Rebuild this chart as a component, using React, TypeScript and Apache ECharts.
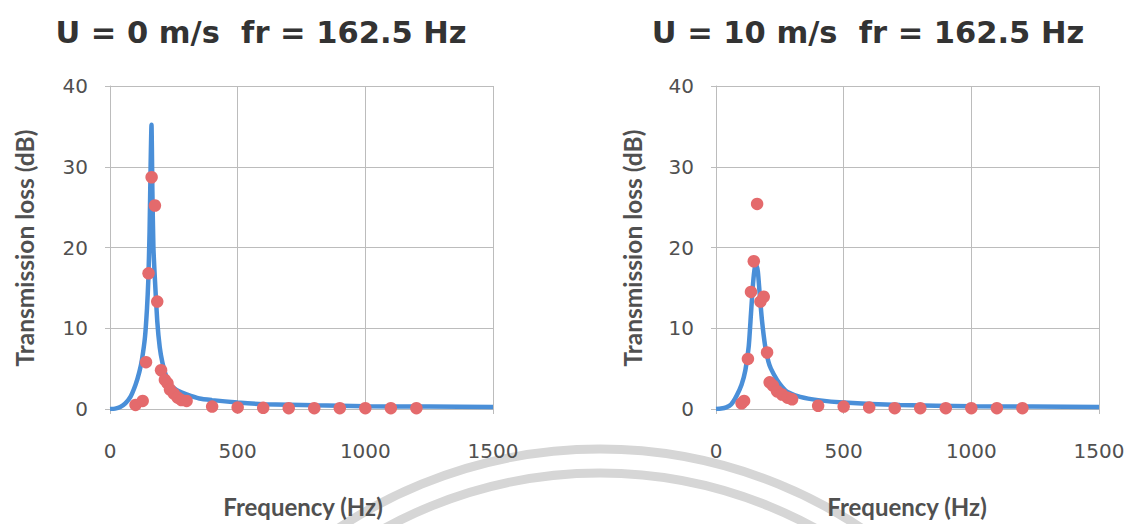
import React, { useEffect, useRef } from "react";
import * as echarts from "echarts";

// ---- Data ----
const titles = ["U = 0 m/s  fr = 162.5 Hz", "U = 10 m/s  fr = 162.5 Hz"];
const xAxisName = "Frequency (Hz)";
const yAxisName = "Transmission loss (dB)";

// U = 0 m/s : model curve
const modelFreq0 = [0, 20, 40, 60, 80, 100, 115, 125, 137, 145, 150, 155, 159, 162.5, 166, 170, 176, 185, 195, 205, 220, 240, 270, 300, 350, 400, 500, 600, 800, 1000, 1250, 1500];
const modelTL0 = [0, 0.05, 0.25, 0.7, 1.5, 3.0, 4.6, 6.1, 8.9, 12.5, 15.9, 22, 30, 35.2, 27, 20, 16, 10.9, 7.6, 5.8, 4.1, 2.9, 2.2, 1.8, 1.3, 1.1, 0.8, 0.6, 0.45, 0.35, 0.3, 0.25];
// U = 0 m/s : measured points
const expFreq0 = [100, 128, 141, 151, 163, 176, 185, 200, 215, 225, 235, 250, 265, 280, 300, 400, 500, 600, 700, 800, 900, 1000, 1100, 1200];
const expTL0 = [0.5, 1.0, 5.8, 16.8, 28.7, 25.2, 13.3, 4.8, 3.6, 3.2, 2.4, 1.9, 1.4, 1.1, 1.0, 0.3, 0.2, 0.15, 0.1, 0.1, 0.1, 0.1, 0.1, 0.1];

// U = 10 m/s : model curve
const modelFreq10 = [0, 20, 40, 60, 80, 100, 115, 128, 137, 145, 152, 158, 164, 171, 180, 193, 205, 215, 239, 260, 280, 330, 400, 500, 720, 1000, 1500];
const modelTL10 = [0, 0.05, 0.2, 0.6, 1.6, 3.0, 4.8, 7.7, 11.8, 15.5, 17.5, 17.8, 17.0, 14.3, 11, 7.7, 5.9, 5.0, 3.6, 2.7, 2.1, 1.5, 1.1, 0.8, 0.5, 0.35, 0.25];
// U = 10 m/s : measured points
const expFreq10 = [100, 110, 125, 137, 148, 161, 174, 187, 200, 210, 223, 239, 258, 280, 298, 400, 500, 600, 700, 800, 900, 1000, 1100, 1200];
const expTL10 = [0.7, 1.0, 6.2, 14.5, 18.3, 25.4, 13.3, 13.9, 7.0, 3.3, 2.9, 2.2, 1.8, 1.4, 1.2, 0.4, 0.3, 0.2, 0.1, 0.1, 0.1, 0.1, 0.1, 0.1];

const xTicks = { min: 0, max: 1500, interval: 500 };
const yTicks = { min: 0, max: 40, interval: 10 };

const zip = (xs: number[], ys: number[]) => xs.map((x, i) => [x, ys[i]]);

const LINE_COLOR = "#4a8fd8";
const DOT_COLOR = "#e46a6c";
const GRID_COLOR = "#bcbcbc";
const LABEL_COLOR = "#505050";

export default function App() {
  const ref = useRef<HTMLDivElement>(null);
  useEffect(() => {
    if (!ref.current) return;
    const chart = echarts.init(ref.current, undefined, { renderer: "svg" });
    const grids = [
      { left: 110, top: 86, width: 383, height: 323 },
      { left: 716, top: 86, width: 383, height: 323 },
    ];
    const plain = (v: number) => String(v);
    const mkX = (i: number) => ({
      type: "value",
      gridIndex: i,
      ...xTicks,
      axisLine: { show: true, lineStyle: { color: GRID_COLOR, width: 1 } },
      axisTick: { show: true, length: 5, lineStyle: { color: GRID_COLOR } },
      splitLine: { show: true, lineStyle: { color: GRID_COLOR, width: 1 } },
      axisLabel: { margin: 32, fontSize: 20, color: LABEL_COLOR, fontFamily: "DejaVu Sans", formatter: plain },
    });
    const mkY = (i: number) => ({
      type: "value",
      gridIndex: i,
      ...yTicks,
      axisLine: { show: true, lineStyle: { color: GRID_COLOR, width: 1 } },
      axisTick: { show: true, length: 5, lineStyle: { color: GRID_COLOR } },
      splitLine: { show: true, lineStyle: { color: GRID_COLOR, width: 1 } },
      axisLabel: { margin: 22, fontSize: 20, color: LABEL_COLOR, fontFamily: "DejaVu Sans", formatter: plain },
    });
    const lineSeries = (i: number, data: number[][]) => ({
      type: "line",
      xAxisIndex: i,
      yAxisIndex: i,
      data,
      showSymbol: false,
      smooth: 0.2,
      lineStyle: { color: LINE_COLOR, width: 4.5 },
      z: 2,
    });
    const dotSeries = (i: number, data: number[][]) => ({
      type: "scatter",
      xAxisIndex: i,
      yAxisIndex: i,
      data,
      symbolSize: 12.5,
      itemStyle: { color: DOT_COLOR, opacity: 1 },
      z: 3,
    });
    const text = (t: string, x: number, y: number, size: number, family: string, color: string, rotation = 0) => ({
      type: "text",
      x,
      y,
      rotation,
      style: {
        text: t,
        fontSize: size,
        fontWeight: "bold",
        fontFamily: family,
        fill: color,
        textAlign: "center",
        textVerticalAlign: "middle",
      },
      z: 10,
    });
    const arc = (r: number) => ({
      type: "arc",
      shape: { cx: 600, cy: 920, r, startAngle: Math.PI * 1.5 - 0.75, endAngle: Math.PI * 1.5 + 0.75, clockwise: true },
      style: { stroke: "#d6d6d6", lineWidth: 9, fill: "none" },
      z: -5,
      silent: true,
    });
    chart.setOption({
      animation: false,
      backgroundColor: "#ffffff",
      grid: grids,
      xAxis: [mkX(0), mkX(1)],
      yAxis: [mkY(0), mkY(1)],
      series: [
        lineSeries(0, zip(modelFreq0, modelTL0)),
        dotSeries(0, zip(expFreq0, expTL0)),
        lineSeries(1, zip(modelFreq10, modelTL10)),
        dotSeries(1, zip(expFreq10, expTL10)),
      ],
      graphic: [
        arc(471),
        arc(447),
        text(titles[0], 261, 32, 30.5, "DejaVu Sans", "#333333"),
        text(titles[1], 868, 32, 30.5, "DejaVu Sans", "#333333"),
        text(xAxisName, 303, 506, 24, "Lato", LABEL_COLOR),
        text(xAxisName, 907, 506, 24, "Lato", LABEL_COLOR),
        text(yAxisName, 24, 248, 24.5, "Lato", LABEL_COLOR, Math.PI / 2),
        text(yAxisName, 632, 248, 24.5, "Lato", LABEL_COLOR, Math.PI / 2),
      ],
    });
    return () => chart.dispose();
  }, []);
  return (
    <div
      ref={ref}
      style={{ position: "fixed", left: 0, top: 0, width: 1134, height: 524, background: "#fff" }}
    />
  );
}
